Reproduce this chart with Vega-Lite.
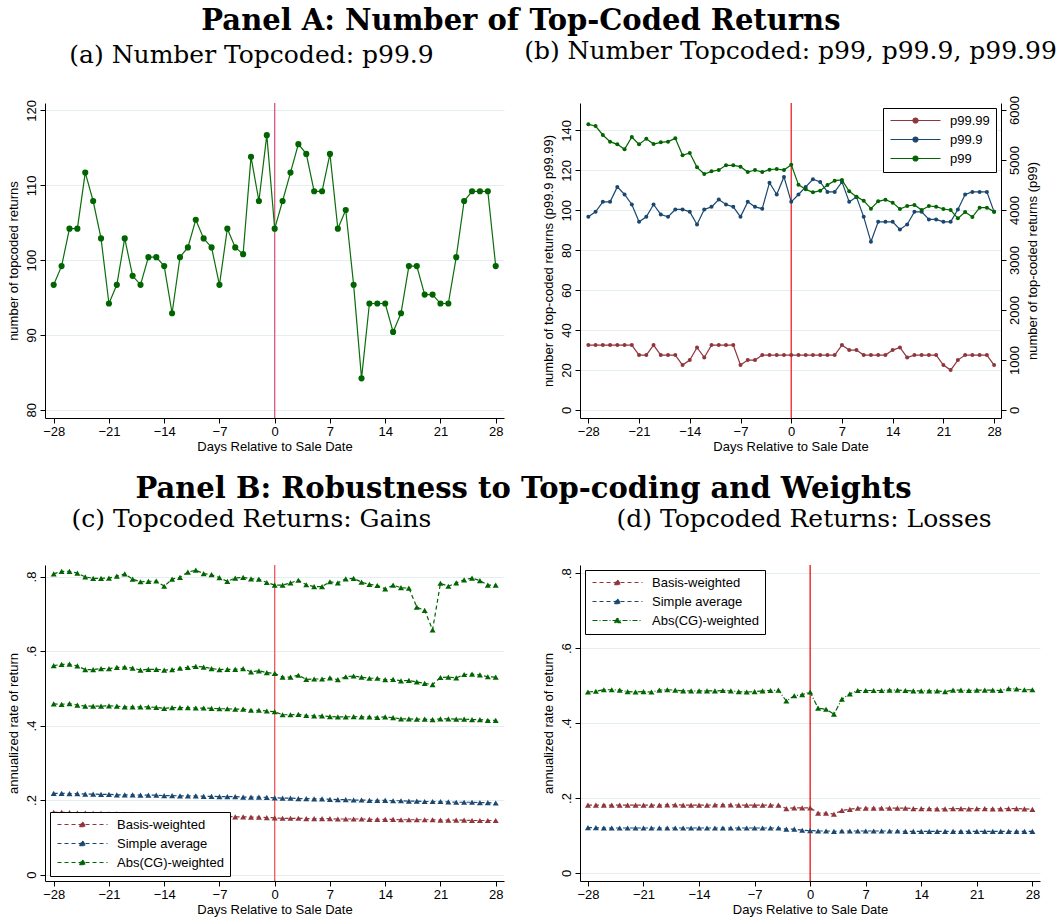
{
"$schema":"https://vega.github.io/schema/vega-lite/v6.json",
"padding":{"left":7,"top":6,"right":5,"bottom":5},
"background":"white",
"config":{
 "view":{"stroke":null},
 "axis":{"labelFont":"Liberation Sans","labelFontSize":13,"labelColor":"#000","titleFont":"Liberation Sans","titleFontSize":13,"titleFontWeight":"normal","titleColor":"#000","domainColor":"#000","domainWidth":1,"tickColor":"#000","tickSize":5,"gridColor":"#e4edef","gridWidth":1,"labelPadding":2,"labelFlush":false,"labelOverlap":false},
 "axisX":{"grid":false,"titlePadding":2},
 "axisY":{"grid":true},
 "axisLeft":{"labelAngle":270,"labelAlign":"center","labelBaseline":"bottom","titlePadding":5},
 "axisRight":{"labelAngle":270,"labelAlign":"center","labelBaseline":"top","titleAngle":270,"titleBaseline":"top","titlePadding":5,"grid":false},
 "title":{"font":"DejaVu Serif","fontSize":25,"fontWeight":"normal","color":"#000","anchor":"middle","offset":32},
 "legend":{"labelFont":"Liberation Sans","labelFontSize":13,"labelColor":"#000","strokeColor":"#000","fillColor":"#fff","padding":6,"rowPadding":5,"offset":5,"symbolSize":100,"symbolOffset":20,"labelOffset":28,"cornerRadius":0}
},
"datasets":{
"b":[
{"day":-28,"s":"p99.99","v":32.5},{"day":-27,"s":"p99.99","v":32.5},{"day":-26,"s":"p99.99","v":32.5},{"day":-25,"s":"p99.99","v":32.5},{"day":-24,"s":"p99.99","v":32.5},{"day":-23,"s":"p99.99","v":32.5},{"day":-22,"s":"p99.99","v":32.5},{"day":-21,"s":"p99.99","v":27.5},{"day":-20,"s":"p99.99","v":27.5},{"day":-19,"s":"p99.99","v":32.5},{"day":-18,"s":"p99.99","v":27.5},{"day":-17,"s":"p99.99","v":27.5},{"day":-16,"s":"p99.99","v":27.5},{"day":-15,"s":"p99.99","v":22.5},{"day":-14,"s":"p99.99","v":25},{"day":-13,"s":"p99.99","v":31.3},{"day":-12,"s":"p99.99","v":26.3},{"day":-11,"s":"p99.99","v":32.5},{"day":-10,"s":"p99.99","v":32.5},{"day":-9,"s":"p99.99","v":32.5},{"day":-8,"s":"p99.99","v":32.5},{"day":-7,"s":"p99.99","v":22.5},{"day":-6,"s":"p99.99","v":25},{"day":-5,"s":"p99.99","v":25},{"day":-4,"s":"p99.99","v":27.5},{"day":-3,"s":"p99.99","v":27.5},{"day":-2,"s":"p99.99","v":27.5},{"day":-1,"s":"p99.99","v":27.5},{"day":0,"s":"p99.99","v":27.5},{"day":1,"s":"p99.99","v":27.5},{"day":2,"s":"p99.99","v":27.5},{"day":3,"s":"p99.99","v":27.5},{"day":4,"s":"p99.99","v":27.5},{"day":5,"s":"p99.99","v":27.5},{"day":6,"s":"p99.99","v":27.5},{"day":7,"s":"p99.99","v":32.5},{"day":8,"s":"p99.99","v":30},{"day":9,"s":"p99.99","v":30},{"day":10,"s":"p99.99","v":27.5},{"day":11,"s":"p99.99","v":27.5},{"day":12,"s":"p99.99","v":27.5},{"day":13,"s":"p99.99","v":27.5},{"day":14,"s":"p99.99","v":30},{"day":15,"s":"p99.99","v":31.3},{"day":16,"s":"p99.99","v":26.3},{"day":17,"s":"p99.99","v":27.5},{"day":18,"s":"p99.99","v":27.5},{"day":19,"s":"p99.99","v":27.5},{"day":20,"s":"p99.99","v":27.5},{"day":21,"s":"p99.99","v":22.5},{"day":22,"s":"p99.99","v":20},{"day":23,"s":"p99.99","v":25},{"day":24,"s":"p99.99","v":27.5},{"day":25,"s":"p99.99","v":27.5},{"day":26,"s":"p99.99","v":27.5},{"day":27,"s":"p99.99","v":27.5},{"day":28,"s":"p99.99","v":22.5},
{"day":-28,"s":"p99.9","v":96.7},{"day":-27,"s":"p99.9","v":99.2},{"day":-26,"s":"p99.9","v":104.2},{"day":-25,"s":"p99.9","v":104.2},{"day":-24,"s":"p99.9","v":111.7},{"day":-23,"s":"p99.9","v":107.9},{"day":-22,"s":"p99.9","v":102.9},{"day":-21,"s":"p99.9","v":94.2},{"day":-20,"s":"p99.9","v":96.7},{"day":-19,"s":"p99.9","v":102.9},{"day":-18,"s":"p99.9","v":97.9},{"day":-17,"s":"p99.9","v":96.7},{"day":-16,"s":"p99.9","v":100.4},{"day":-15,"s":"p99.9","v":100.4},{"day":-14,"s":"p99.9","v":99.2},{"day":-13,"s":"p99.9","v":92.9},{"day":-12,"s":"p99.9","v":100.4},{"day":-11,"s":"p99.9","v":101.7},{"day":-10,"s":"p99.9","v":105.4},{"day":-9,"s":"p99.9","v":102.9},{"day":-8,"s":"p99.9","v":101.7},{"day":-7,"s":"p99.9","v":96.7},{"day":-6,"s":"p99.9","v":104.2},{"day":-5,"s":"p99.9","v":101.7},{"day":-4,"s":"p99.9","v":100.8},{"day":-3,"s":"p99.9","v":113.8},{"day":-2,"s":"p99.9","v":107.9},{"day":-1,"s":"p99.9","v":116.7},{"day":0,"s":"p99.9","v":104.2},{"day":1,"s":"p99.9","v":107.9},{"day":2,"s":"p99.9","v":111.7},{"day":3,"s":"p99.9","v":115.5},{"day":4,"s":"p99.9","v":114.2},{"day":5,"s":"p99.9","v":109.2},{"day":6,"s":"p99.9","v":109.2},{"day":7,"s":"p99.9","v":114.2},{"day":8,"s":"p99.9","v":104.2},{"day":9,"s":"p99.9","v":106.7},{"day":10,"s":"p99.9","v":96.7},{"day":11,"s":"p99.9","v":84.2},{"day":12,"s":"p99.9","v":94.2},{"day":13,"s":"p99.9","v":94.2},{"day":14,"s":"p99.9","v":94.2},{"day":15,"s":"p99.9","v":90.4},{"day":16,"s":"p99.9","v":92.9},{"day":17,"s":"p99.9","v":99.2},{"day":18,"s":"p99.9","v":99.2},{"day":19,"s":"p99.9","v":95.4},{"day":20,"s":"p99.9","v":95.4},{"day":21,"s":"p99.9","v":94.2},{"day":22,"s":"p99.9","v":94.2},{"day":23,"s":"p99.9","v":100.4},{"day":24,"s":"p99.9","v":107.9},{"day":25,"s":"p99.9","v":109.2},{"day":26,"s":"p99.9","v":109.2},{"day":27,"s":"p99.9","v":109.2},{"day":28,"s":"p99.9","v":99.2},
{"day":-28,"s":"p99","v":5713},{"day":-27,"s":"p99","v":5680},{"day":-26,"s":"p99","v":5500},{"day":-25,"s":"p99","v":5367},{"day":-24,"s":"p99","v":5313},{"day":-23,"s":"p99","v":5213},{"day":-22,"s":"p99","v":5460},{"day":-21,"s":"p99","v":5313},{"day":-20,"s":"p99","v":5427},{"day":-19,"s":"p99","v":5320},{"day":-18,"s":"p99","v":5353},{"day":-17,"s":"p99","v":5367},{"day":-16,"s":"p99","v":5433},{"day":-15,"s":"p99","v":5093},{"day":-14,"s":"p99","v":5140},{"day":-13,"s":"p99","v":4853},{"day":-12,"s":"p99","v":4720},{"day":-11,"s":"p99","v":4773},{"day":-10,"s":"p99","v":4800},{"day":-9,"s":"p99","v":4893},{"day":-8,"s":"p99","v":4893},{"day":-7,"s":"p99","v":4867},{"day":-6,"s":"p99","v":4760},{"day":-5,"s":"p99","v":4800},{"day":-4,"s":"p99","v":4760},{"day":-3,"s":"p99","v":4807},{"day":-2,"s":"p99","v":4820},{"day":-1,"s":"p99","v":4800},{"day":0,"s":"p99","v":4907},{"day":1,"s":"p99","v":4507},{"day":2,"s":"p99","v":4413},{"day":3,"s":"p99","v":4353},{"day":4,"s":"p99","v":4387},{"day":5,"s":"p99","v":4500},{"day":6,"s":"p99","v":4587},{"day":7,"s":"p99","v":4600},{"day":8,"s":"p99","v":4373},{"day":9,"s":"p99","v":4267},{"day":10,"s":"p99","v":4187},{"day":11,"s":"p99","v":4027},{"day":12,"s":"p99","v":4173},{"day":13,"s":"p99","v":4207},{"day":14,"s":"p99","v":4147},{"day":15,"s":"p99","v":4020},{"day":16,"s":"p99","v":4080},{"day":17,"s":"p99","v":4100},{"day":18,"s":"p99","v":4000},{"day":19,"s":"p99","v":4080},{"day":20,"s":"p99","v":4067},{"day":21,"s":"p99","v":4020},{"day":22,"s":"p99","v":4000},{"day":23,"s":"p99","v":3833},{"day":24,"s":"p99","v":3960},{"day":25,"s":"p99","v":3860},{"day":26,"s":"p99","v":4047},{"day":27,"s":"p99","v":4047},{"day":28,"s":"p99","v":3967}
],
"c":[
{"day":-28,"s":"basis","v":0.167},{"day":-28,"s":"simple","v":0.218},{"day":-28,"s":"abs","v":0.807},{"day":-28,"s":"abs2","v":0.561},{"day":-28,"s":"abs3","v":0.458},
{"day":-27,"s":"basis","v":0.167},{"day":-27,"s":"simple","v":0.218},{"day":-27,"s":"abs","v":0.814},{"day":-27,"s":"abs2","v":0.564},{"day":-27,"s":"abs3","v":0.457},
{"day":-26,"s":"basis","v":0.166},{"day":-26,"s":"simple","v":0.217},{"day":-26,"s":"abs","v":0.814},{"day":-26,"s":"abs2","v":0.565},{"day":-26,"s":"abs3","v":0.459},
{"day":-25,"s":"basis","v":0.165},{"day":-25,"s":"simple","v":0.217},{"day":-25,"s":"abs","v":0.809},{"day":-25,"s":"abs2","v":0.560},{"day":-25,"s":"abs3","v":0.455},
{"day":-24,"s":"basis","v":0.165},{"day":-24,"s":"simple","v":0.216},{"day":-24,"s":"abs","v":0.799},{"day":-24,"s":"abs2","v":0.550},{"day":-24,"s":"abs3","v":0.452},
{"day":-23,"s":"basis","v":0.164},{"day":-23,"s":"simple","v":0.216},{"day":-23,"s":"abs","v":0.795},{"day":-23,"s":"abs2","v":0.550},{"day":-23,"s":"abs3","v":0.452},
{"day":-22,"s":"basis","v":0.164},{"day":-22,"s":"simple","v":0.215},{"day":-22,"s":"abs","v":0.795},{"day":-22,"s":"abs2","v":0.553},{"day":-22,"s":"abs3","v":0.452},
{"day":-21,"s":"basis","v":0.163},{"day":-21,"s":"simple","v":0.215},{"day":-21,"s":"abs","v":0.796},{"day":-21,"s":"abs2","v":0.553},{"day":-21,"s":"abs3","v":0.453},
{"day":-20,"s":"basis","v":0.163},{"day":-20,"s":"simple","v":0.214},{"day":-20,"s":"abs","v":0.801},{"day":-20,"s":"abs2","v":0.556},{"day":-20,"s":"abs3","v":0.452},
{"day":-19,"s":"basis","v":0.162},{"day":-19,"s":"simple","v":0.214},{"day":-19,"s":"abs","v":0.807},{"day":-19,"s":"abs2","v":0.557},{"day":-19,"s":"abs3","v":0.450},
{"day":-18,"s":"basis","v":0.162},{"day":-18,"s":"simple","v":0.214},{"day":-18,"s":"abs","v":0.793},{"day":-18,"s":"abs2","v":0.554},{"day":-18,"s":"abs3","v":0.450},
{"day":-17,"s":"basis","v":0.161},{"day":-17,"s":"simple","v":0.213},{"day":-17,"s":"abs","v":0.786},{"day":-17,"s":"abs2","v":0.549},{"day":-17,"s":"abs3","v":0.450},
{"day":-16,"s":"basis","v":0.161},{"day":-16,"s":"simple","v":0.213},{"day":-16,"s":"abs","v":0.787},{"day":-16,"s":"abs2","v":0.551},{"day":-16,"s":"abs3","v":0.450},
{"day":-15,"s":"basis","v":0.160},{"day":-15,"s":"simple","v":0.213},{"day":-15,"s":"abs","v":0.788},{"day":-15,"s":"abs2","v":0.551},{"day":-15,"s":"abs3","v":0.449},
{"day":-14,"s":"basis","v":0.160},{"day":-14,"s":"simple","v":0.212},{"day":-14,"s":"abs","v":0.774},{"day":-14,"s":"abs2","v":0.549},{"day":-14,"s":"abs3","v":0.446},
{"day":-13,"s":"basis","v":0.159},{"day":-13,"s":"simple","v":0.212},{"day":-13,"s":"abs","v":0.793},{"day":-13,"s":"abs2","v":0.550},{"day":-13,"s":"abs3","v":0.448},
{"day":-12,"s":"basis","v":0.159},{"day":-12,"s":"simple","v":0.211},{"day":-12,"s":"abs","v":0.798},{"day":-12,"s":"abs2","v":0.554},{"day":-12,"s":"abs3","v":0.448},
{"day":-11,"s":"basis","v":0.158},{"day":-11,"s":"simple","v":0.211},{"day":-11,"s":"abs","v":0.812},{"day":-11,"s":"abs2","v":0.556},{"day":-11,"s":"abs3","v":0.448},
{"day":-10,"s":"basis","v":0.158},{"day":-10,"s":"simple","v":0.211},{"day":-10,"s":"abs","v":0.817},{"day":-10,"s":"abs2","v":0.559},{"day":-10,"s":"abs3","v":0.447},
{"day":-9,"s":"basis","v":0.157},{"day":-9,"s":"simple","v":0.210},{"day":-9,"s":"abs","v":0.808},{"day":-9,"s":"abs2","v":0.557},{"day":-9,"s":"abs3","v":0.447},
{"day":-8,"s":"basis","v":0.157},{"day":-8,"s":"simple","v":0.210},{"day":-8,"s":"abs","v":0.805},{"day":-8,"s":"abs2","v":0.553},{"day":-8,"s":"abs3","v":0.446},
{"day":-7,"s":"basis","v":0.156},{"day":-7,"s":"simple","v":0.209},{"day":-7,"s":"abs","v":0.797},{"day":-7,"s":"abs2","v":0.550},{"day":-7,"s":"abs3","v":0.445},
{"day":-6,"s":"basis","v":0.156},{"day":-6,"s":"simple","v":0.209},{"day":-6,"s":"abs","v":0.787},{"day":-6,"s":"abs2","v":0.551},{"day":-6,"s":"abs3","v":0.445},
{"day":-5,"s":"basis","v":0.155},{"day":-5,"s":"simple","v":0.209},{"day":-5,"s":"abs","v":0.796},{"day":-5,"s":"abs2","v":0.551},{"day":-5,"s":"abs3","v":0.444},
{"day":-4,"s":"basis","v":0.155},{"day":-4,"s":"simple","v":0.208},{"day":-4,"s":"abs","v":0.798},{"day":-4,"s":"abs2","v":0.553},{"day":-4,"s":"abs3","v":0.444},
{"day":-3,"s":"basis","v":0.154},{"day":-3,"s":"simple","v":0.208},{"day":-3,"s":"abs","v":0.794},{"day":-3,"s":"abs2","v":0.544},{"day":-3,"s":"abs3","v":0.441},
{"day":-2,"s":"basis","v":0.154},{"day":-2,"s":"simple","v":0.208},{"day":-2,"s":"abs","v":0.793},{"day":-2,"s":"abs2","v":0.547},{"day":-2,"s":"abs3","v":0.441},
{"day":-1,"s":"basis","v":0.153},{"day":-1,"s":"simple","v":0.207},{"day":-1,"s":"abs","v":0.784},{"day":-1,"s":"abs2","v":0.542},{"day":-1,"s":"abs3","v":0.439},
{"day":0,"s":"basis","v":0.152},{"day":0,"s":"simple","v":0.206},{"day":0,"s":"abs","v":0.777},{"day":0,"s":"abs2","v":0.540},{"day":0,"s":"abs3","v":0.437},
{"day":1,"s":"basis","v":0.151},{"day":1,"s":"simple","v":0.205},{"day":1,"s":"abs","v":0.777},{"day":1,"s":"abs2","v":0.530},{"day":1,"s":"abs3","v":0.429},
{"day":2,"s":"basis","v":0.151},{"day":2,"s":"simple","v":0.205},{"day":2,"s":"abs","v":0.783},{"day":2,"s":"abs2","v":0.530},{"day":2,"s":"abs3","v":0.429},
{"day":3,"s":"basis","v":0.151},{"day":3,"s":"simple","v":0.204},{"day":3,"s":"abs","v":0.790},{"day":3,"s":"abs2","v":0.535},{"day":3,"s":"abs3","v":0.430},
{"day":4,"s":"basis","v":0.150},{"day":4,"s":"simple","v":0.204},{"day":4,"s":"abs","v":0.778},{"day":4,"s":"abs2","v":0.524},{"day":4,"s":"abs3","v":0.427},
{"day":5,"s":"basis","v":0.150},{"day":5,"s":"simple","v":0.203},{"day":5,"s":"abs","v":0.773},{"day":5,"s":"abs2","v":0.525},{"day":5,"s":"abs3","v":0.426},
{"day":6,"s":"basis","v":0.150},{"day":6,"s":"simple","v":0.203},{"day":6,"s":"abs","v":0.773},{"day":6,"s":"abs2","v":0.525},{"day":6,"s":"abs3","v":0.426},
{"day":7,"s":"basis","v":0.150},{"day":7,"s":"simple","v":0.202},{"day":7,"s":"abs","v":0.786},{"day":7,"s":"abs2","v":0.528},{"day":7,"s":"abs3","v":0.424},
{"day":8,"s":"basis","v":0.149},{"day":8,"s":"simple","v":0.201},{"day":8,"s":"abs","v":0.783},{"day":8,"s":"abs2","v":0.523},{"day":8,"s":"abs3","v":0.423},
{"day":9,"s":"basis","v":0.149},{"day":9,"s":"simple","v":0.201},{"day":9,"s":"abs","v":0.794},{"day":9,"s":"abs2","v":0.531},{"day":9,"s":"abs3","v":0.423},
{"day":10,"s":"basis","v":0.149},{"day":10,"s":"simple","v":0.200},{"day":10,"s":"abs","v":0.795},{"day":10,"s":"abs2","v":0.533},{"day":10,"s":"abs3","v":0.424},
{"day":11,"s":"basis","v":0.149},{"day":11,"s":"simple","v":0.200},{"day":11,"s":"abs","v":0.785},{"day":11,"s":"abs2","v":0.530},{"day":11,"s":"abs3","v":0.423},
{"day":12,"s":"basis","v":0.148},{"day":12,"s":"simple","v":0.199},{"day":12,"s":"abs","v":0.779},{"day":12,"s":"abs2","v":0.527},{"day":12,"s":"abs3","v":0.423},
{"day":13,"s":"basis","v":0.148},{"day":13,"s":"simple","v":0.199},{"day":13,"s":"abs","v":0.776},{"day":13,"s":"abs2","v":0.527},{"day":13,"s":"abs3","v":0.422},
{"day":14,"s":"basis","v":0.148},{"day":14,"s":"simple","v":0.199},{"day":14,"s":"abs","v":0.767},{"day":14,"s":"abs2","v":0.523},{"day":14,"s":"abs3","v":0.423},
{"day":15,"s":"basis","v":0.148},{"day":15,"s":"simple","v":0.198},{"day":15,"s":"abs","v":0.777},{"day":15,"s":"abs2","v":0.524},{"day":15,"s":"abs3","v":0.421},
{"day":16,"s":"basis","v":0.147},{"day":16,"s":"simple","v":0.198},{"day":16,"s":"abs","v":0.770},{"day":16,"s":"abs2","v":0.520},{"day":16,"s":"abs3","v":0.418},
{"day":17,"s":"basis","v":0.147},{"day":17,"s":"simple","v":0.197},{"day":17,"s":"abs","v":0.769},{"day":17,"s":"abs2","v":0.521},{"day":17,"s":"abs3","v":0.418},
{"day":18,"s":"basis","v":0.147},{"day":18,"s":"simple","v":0.197},{"day":18,"s":"abs","v":0.718},{"day":18,"s":"abs2","v":0.517},{"day":18,"s":"abs3","v":0.417},
{"day":19,"s":"basis","v":0.147},{"day":19,"s":"simple","v":0.196},{"day":19,"s":"abs","v":0.709},{"day":19,"s":"abs2","v":0.513},{"day":19,"s":"abs3","v":0.417},
{"day":20,"s":"basis","v":0.147},{"day":20,"s":"simple","v":0.196},{"day":20,"s":"abs","v":0.657},{"day":20,"s":"abs2","v":0.510},{"day":20,"s":"abs3","v":0.416},
{"day":21,"s":"basis","v":0.146},{"day":21,"s":"simple","v":0.196},{"day":21,"s":"abs","v":0.782},{"day":21,"s":"abs2","v":0.529},{"day":21,"s":"abs3","v":0.418},
{"day":22,"s":"basis","v":0.146},{"day":22,"s":"simple","v":0.195},{"day":22,"s":"abs","v":0.774},{"day":22,"s":"abs2","v":0.530},{"day":22,"s":"abs3","v":0.418},
{"day":23,"s":"basis","v":0.146},{"day":23,"s":"simple","v":0.194},{"day":23,"s":"abs","v":0.783},{"day":23,"s":"abs2","v":0.528},{"day":23,"s":"abs3","v":0.417},
{"day":24,"s":"basis","v":0.146},{"day":24,"s":"simple","v":0.194},{"day":24,"s":"abs","v":0.791},{"day":24,"s":"abs2","v":0.537},{"day":24,"s":"abs3","v":0.417},
{"day":25,"s":"basis","v":0.145},{"day":25,"s":"simple","v":0.194},{"day":25,"s":"abs","v":0.796},{"day":25,"s":"abs2","v":0.538},{"day":25,"s":"abs3","v":0.416},
{"day":26,"s":"basis","v":0.145},{"day":26,"s":"simple","v":0.193},{"day":26,"s":"abs","v":0.789},{"day":26,"s":"abs2","v":0.536},{"day":26,"s":"abs3","v":0.416},
{"day":27,"s":"basis","v":0.145},{"day":27,"s":"simple","v":0.193},{"day":27,"s":"abs","v":0.777},{"day":27,"s":"abs2","v":0.531},{"day":27,"s":"abs3","v":0.414},
{"day":28,"s":"basis","v":0.145},{"day":28,"s":"simple","v":0.192},{"day":28,"s":"abs","v":0.777},{"day":28,"s":"abs2","v":0.530},{"day":28,"s":"abs3","v":0.414}
],
"d":[
{"day":-28,"s":"basis","v":0.181},{"day":-28,"s":"simple","v":0.121},{"day":-28,"s":"abs","v":0.483},
{"day":-27,"s":"basis","v":0.181},{"day":-27,"s":"simple","v":0.121},{"day":-27,"s":"abs","v":0.485},
{"day":-26,"s":"basis","v":0.181},{"day":-26,"s":"simple","v":0.120},{"day":-26,"s":"abs","v":0.489},
{"day":-25,"s":"basis","v":0.181},{"day":-25,"s":"simple","v":0.120},{"day":-25,"s":"abs","v":0.489},
{"day":-24,"s":"basis","v":0.181},{"day":-24,"s":"simple","v":0.120},{"day":-24,"s":"abs","v":0.488},
{"day":-23,"s":"basis","v":0.181},{"day":-23,"s":"simple","v":0.120},{"day":-23,"s":"abs","v":0.484},
{"day":-22,"s":"basis","v":0.181},{"day":-22,"s":"simple","v":0.120},{"day":-22,"s":"abs","v":0.483},
{"day":-21,"s":"basis","v":0.181},{"day":-21,"s":"simple","v":0.120},{"day":-21,"s":"abs","v":0.484},
{"day":-20,"s":"basis","v":0.181},{"day":-20,"s":"simple","v":0.120},{"day":-20,"s":"abs","v":0.483},
{"day":-19,"s":"basis","v":0.181},{"day":-19,"s":"simple","v":0.120},{"day":-19,"s":"abs","v":0.488},
{"day":-18,"s":"basis","v":0.182},{"day":-18,"s":"simple","v":0.120},{"day":-18,"s":"abs","v":0.489},
{"day":-17,"s":"basis","v":0.182},{"day":-17,"s":"simple","v":0.120},{"day":-17,"s":"abs","v":0.488},
{"day":-16,"s":"basis","v":0.181},{"day":-16,"s":"simple","v":0.120},{"day":-16,"s":"abs","v":0.486},
{"day":-15,"s":"basis","v":0.181},{"day":-15,"s":"simple","v":0.120},{"day":-15,"s":"abs","v":0.486},
{"day":-14,"s":"basis","v":0.181},{"day":-14,"s":"simple","v":0.120},{"day":-14,"s":"abs","v":0.486},
{"day":-13,"s":"basis","v":0.181},{"day":-13,"s":"simple","v":0.120},{"day":-13,"s":"abs","v":0.486},
{"day":-12,"s":"basis","v":0.182},{"day":-12,"s":"simple","v":0.120},{"day":-12,"s":"abs","v":0.486},
{"day":-11,"s":"basis","v":0.182},{"day":-11,"s":"simple","v":0.120},{"day":-11,"s":"abs","v":0.487},
{"day":-10,"s":"basis","v":0.182},{"day":-10,"s":"simple","v":0.120},{"day":-10,"s":"abs","v":0.486},
{"day":-9,"s":"basis","v":0.181},{"day":-9,"s":"simple","v":0.120},{"day":-9,"s":"abs","v":0.484},
{"day":-8,"s":"basis","v":0.181},{"day":-8,"s":"simple","v":0.120},{"day":-8,"s":"abs","v":0.483},
{"day":-7,"s":"basis","v":0.181},{"day":-7,"s":"simple","v":0.120},{"day":-7,"s":"abs","v":0.484},
{"day":-6,"s":"basis","v":0.181},{"day":-6,"s":"simple","v":0.120},{"day":-6,"s":"abs","v":0.486},
{"day":-5,"s":"basis","v":0.181},{"day":-5,"s":"simple","v":0.120},{"day":-5,"s":"abs","v":0.487},
{"day":-4,"s":"basis","v":0.181},{"day":-4,"s":"simple","v":0.120},{"day":-4,"s":"abs","v":0.488},
{"day":-3,"s":"basis","v":0.172},{"day":-3,"s":"simple","v":0.117},{"day":-3,"s":"abs","v":0.459},
{"day":-2,"s":"basis","v":0.174},{"day":-2,"s":"simple","v":0.117},{"day":-2,"s":"abs","v":0.473},
{"day":-1,"s":"basis","v":0.174},{"day":-1,"s":"simple","v":0.114},{"day":-1,"s":"abs","v":0.476},
{"day":0,"s":"basis","v":0.174},{"day":0,"s":"simple","v":0.113},{"day":0,"s":"abs","v":0.483},
{"day":1,"s":"basis","v":0.160},{"day":1,"s":"simple","v":0.112},{"day":1,"s":"abs","v":0.440},
{"day":2,"s":"basis","v":0.160},{"day":2,"s":"simple","v":0.112},{"day":2,"s":"abs","v":0.437},
{"day":3,"s":"basis","v":0.157},{"day":3,"s":"simple","v":0.111},{"day":3,"s":"abs","v":0.424},
{"day":4,"s":"basis","v":0.167},{"day":4,"s":"simple","v":0.112},{"day":4,"s":"abs","v":0.464},
{"day":5,"s":"basis","v":0.170},{"day":5,"s":"simple","v":0.112},{"day":5,"s":"abs","v":0.478},
{"day":6,"s":"basis","v":0.173},{"day":6,"s":"simple","v":0.112},{"day":6,"s":"abs","v":0.487},
{"day":7,"s":"basis","v":0.173},{"day":7,"s":"simple","v":0.112},{"day":7,"s":"abs","v":0.487},
{"day":8,"s":"basis","v":0.173},{"day":8,"s":"simple","v":0.112},{"day":8,"s":"abs","v":0.487},
{"day":9,"s":"basis","v":0.173},{"day":9,"s":"simple","v":0.112},{"day":9,"s":"abs","v":0.487},
{"day":10,"s":"basis","v":0.173},{"day":10,"s":"simple","v":0.112},{"day":10,"s":"abs","v":0.488},
{"day":11,"s":"basis","v":0.173},{"day":11,"s":"simple","v":0.112},{"day":11,"s":"abs","v":0.488},
{"day":12,"s":"basis","v":0.173},{"day":12,"s":"simple","v":0.111},{"day":12,"s":"abs","v":0.487},
{"day":13,"s":"basis","v":0.172},{"day":13,"s":"simple","v":0.111},{"day":13,"s":"abs","v":0.486},
{"day":14,"s":"basis","v":0.172},{"day":14,"s":"simple","v":0.111},{"day":14,"s":"abs","v":0.486},
{"day":15,"s":"basis","v":0.172},{"day":15,"s":"simple","v":0.111},{"day":15,"s":"abs","v":0.486},
{"day":16,"s":"basis","v":0.171},{"day":16,"s":"simple","v":0.111},{"day":16,"s":"abs","v":0.486},
{"day":17,"s":"basis","v":0.171},{"day":17,"s":"simple","v":0.111},{"day":17,"s":"abs","v":0.484},
{"day":18,"s":"basis","v":0.172},{"day":18,"s":"simple","v":0.111},{"day":18,"s":"abs","v":0.488},
{"day":19,"s":"basis","v":0.172},{"day":19,"s":"simple","v":0.111},{"day":19,"s":"abs","v":0.488},
{"day":20,"s":"basis","v":0.171},{"day":20,"s":"simple","v":0.111},{"day":20,"s":"abs","v":0.487},
{"day":21,"s":"basis","v":0.172},{"day":21,"s":"simple","v":0.111},{"day":21,"s":"abs","v":0.488},
{"day":22,"s":"basis","v":0.172},{"day":22,"s":"simple","v":0.111},{"day":22,"s":"abs","v":0.488},
{"day":23,"s":"basis","v":0.171},{"day":23,"s":"simple","v":0.111},{"day":23,"s":"abs","v":0.488},
{"day":24,"s":"basis","v":0.171},{"day":24,"s":"simple","v":0.111},{"day":24,"s":"abs","v":0.487},
{"day":25,"s":"basis","v":0.172},{"day":25,"s":"simple","v":0.111},{"day":25,"s":"abs","v":0.492},
{"day":26,"s":"basis","v":0.172},{"day":26,"s":"simple","v":0.111},{"day":26,"s":"abs","v":0.491},
{"day":27,"s":"basis","v":0.171},{"day":27,"s":"simple","v":0.111},{"day":27,"s":"abs","v":0.489},
{"day":28,"s":"basis","v":0.170},{"day":28,"s":"simple","v":0.111},{"day":28,"s":"abs","v":0.489}
],
"zero":[{"day":0}]
},
"vconcat":[
 {
  "title":{"text":"Panel A: Number of Top-Coded Returns","font":"DejaVu Serif","fontSize":29,"fontWeight":"bold","offset":3,"dx":-11},
  "spacing":76,
  "bounds":"flush",
  "hconcat":[
   {
    "width":459,"height":315,
    "title":{"text":"(a) Number Topcoded: p99.9","dx":-23},
    "encoding":{"x":{"field":"day","type":"quantitative","scale":{"domain":[-29.1,29.05],"nice":false,"zero":false},"axis":{"values":[-28,-21,-14,-7,0,7,14,21,28],"title":"Days Relative to Sale Date"}}},
    "layer":[
     {"data":{"name":"zero"},"mark":{"type":"rule","color":"#d5587a","strokeWidth":1.3},"encoding":{}},
     {"data":{"name":"b"},"transform":[{"filter":"datum.s == 'p99.9'"}],
      "encoding":{"y":{"field":"v","type":"quantitative","scale":{"domain":[78.9,121],"nice":false,"zero":false},"axis":{"values":[80,90,100,110,120],"title":"number of topcoded returns"}}},
      "layer":[
       {"mark":{"type":"line","color":"#0a6e0a","strokeWidth":1.2},"encoding":{}},
       {"mark":{"type":"point","filled":true,"size":38,"opacity":1,"color":"#006400"},"encoding":{}}
      ]}
    ]
   },
   {
    "width":421,"height":315,
    "title":{"text":"(b) Number Topcoded: p99, p99.9, p99.99"},
    "encoding":{"x":{"field":"day","type":"quantitative","scale":{"domain":[-29.15,28.95],"nice":false,"zero":false},"axis":{"values":[-28,-21,-14,-7,0,7,14,21,28],"title":"Days Relative to Sale Date"}}},
    "layer":[
     {"data":{"name":"zero"},"mark":{"type":"rule","color":"#ee1111","strokeWidth":1.2},"encoding":{}},
     {"data":{"name":"b"},"transform":[{"filter":"datum.s != 'p99'"}],
      "encoding":{
       "y":{"field":"v","type":"quantitative","scale":{"domain":[-4,153.7],"nice":false,"zero":false},"axis":{"orient":"left","values":[0,20,40,60,80,100,120,140],"title":"number of top-coded returns (p99.9  p99.99)"}},
       "color":{"field":"s","type":"nominal","scale":{"domain":["p99.99","p99.9","p99"],"range":["#90353b","#1a476f","#006400"]},
        "legend":{"title":null,"orient":"top-right","offset":5,"symbolType":"M-5,0H5M-0.5,0A0.5,0.5,0,1,0,0.5,0A0.5,0.5,0,1,0,-0.5,0Z",
         "encode":{"symbols":{"update":{"fill":[{"test":"datum.value==='p99.99'","value":"#90353b"},{"test":"datum.value==='p99.9'","value":"#1a476f"},{"value":"#006400"}],"stroke":[{"test":"datum.value==='p99.99'","value":"#90353b"},{"test":"datum.value==='p99.9'","value":"#1a476f"},{"value":"#006400"}],"strokeWidth":{"value":1.2},"opacity":{"value":1}}}}}}
      },
      "layer":[
       {"mark":{"type":"line","strokeWidth":1.2},"encoding":{}},
       {"mark":{"type":"point","filled":true,"size":16,"opacity":1},"encoding":{}}
      ]},
     {"data":{"name":"b"},"transform":[{"filter":"datum.s == 'p99'"}],
      "encoding":{
       "y":{"field":"v","type":"quantitative","scale":{"domain":[-160,6140],"nice":false,"zero":false},"axis":{"orient":"right","grid":false,"format":"d","values":[0,1000,2000,3000,4000,5000,6000],"title":"number of top-coded returns (p99)"}},
       "color":{"field":"s","type":"nominal","scale":{"domain":["p99.99","p99.9","p99"],"range":["#90353b","#1a476f","#006400"]},
        "legend":{"title":null,"orient":"top-right","offset":5,"symbolType":"M-5,0H5M-0.5,0A0.5,0.5,0,1,0,0.5,0A0.5,0.5,0,1,0,-0.5,0Z",
         "encode":{"symbols":{"update":{"fill":[{"test":"datum.value==='p99.99'","value":"#90353b"},{"test":"datum.value==='p99.9'","value":"#1a476f"},{"value":"#006400"}],"stroke":[{"test":"datum.value==='p99.99'","value":"#90353b"},{"test":"datum.value==='p99.9'","value":"#1a476f"},{"value":"#006400"}],"strokeWidth":{"value":1.2},"opacity":{"value":1}}}}}}
      },
      "layer":[
       {"mark":{"type":"line","strokeWidth":1.2},"encoding":{}},
       {"mark":{"type":"point","filled":true,"size":16,"opacity":1},"encoding":{}}
      ]}
    ],
    "resolve":{"scale":{"y":"independent"}}
   }
  ],
  "resolve":{"scale":{"color":"independent"},"legend":{"color":"independent"}}
 },
 {
  "title":{"text":"Panel B: Robustness to Top-coding and Weights","font":"DejaVu Serif","fontSize":29,"fontWeight":"bold","offset":3},
  "spacing":76,
  "bounds":"flush",
  "hconcat":[
   {
    "width":459,"height":316,
    "title":{"text":"(c) Topcoded Returns: Gains","dx":-23},
    "encoding":{"x":{"field":"day","type":"quantitative","scale":{"domain":[-29.1,29.05],"nice":false,"zero":false},"axis":{"values":[-28,-21,-14,-7,0,7,14,21,28],"title":"Days Relative to Sale Date"}}},
    "layer":[
     {"data":{"name":"zero"},"mark":{"type":"rule","color":"#f25555","strokeWidth":1.3},"encoding":{}},
     {"data":{"name":"c"},
      "encoding":{
       "y":{"field":"v","type":"quantitative","scale":{"domain":[-0.0174,0.831],"nice":false,"zero":false},"axis":{"values":[0,0.2,0.4,0.6,0.8],"labelExpr":"datum.value == 0 ? '0' : replace(format(datum.value, '.1f'), '0.', '.')","title":"annualized rate of return"}},
       "color":{"field":"s","type":"nominal","scale":{"domain":["basis","simple","abs","abs2","abs3"],"range":["#90353b","#1a476f","#006400","#006400","#006400"]},
        "legend":{"title":null,"orient":"bottom-left","offset":5,"values":["basis","simple","abs"],"labelExpr":"datum.label == 'basis' ? 'Basis-weighted' : datum.label == 'simple' ? 'Simple average' : 'Abs(CG)-weighted'","symbolType":"M-5,0H5M-0.6,0.45L0,-0.6L0.6,0.45Z",
         "encode":{"symbols":{"update":{"fill":[{"test":"datum.value==='basis'","value":"#90353b"},{"test":"datum.value==='simple'","value":"#1a476f"},{"value":"#006400"}],"stroke":[{"test":"datum.value==='basis'","value":"#90353b"},{"test":"datum.value==='simple'","value":"#1a476f"},{"value":"#006400"}],"strokeWidth":{"value":1.2},"strokeDash":{"value":[4,3]},"opacity":{"value":1}}}}}}
      },
      "layer":[
       {"mark":{"type":"line","strokeWidth":1.2,"strokeDash":[4,3]},"encoding":{}},
       {"mark":{"type":"point","shape":"triangle-up","filled":true,"size":36,"opacity":1},"encoding":{}}
      ]}
    ]
   },
   {
    "width":460,"height":316,
    "title":{"text":"(d) Topcoded Returns: Losses","dx":-6},
    "encoding":{"x":{"field":"day","type":"quantitative","scale":{"domain":[-29.0,28.96],"nice":false,"zero":false},"axis":{"values":[-28,-21,-14,-7,0,7,14,21,28],"title":"Days Relative to Sale Date"}}},
    "layer":[
     {"data":{"name":"zero"},"mark":{"type":"rule","color":"#ee1111","strokeWidth":1.3},"encoding":{}},
     {"data":{"name":"d"},
      "encoding":{
       "y":{"field":"v","type":"quantitative","scale":{"domain":[-0.0214,0.822],"nice":false,"zero":false},"axis":{"values":[0,0.2,0.4,0.6,0.8],"labelExpr":"datum.value == 0 ? '0' : replace(format(datum.value, '.1f'), '0.', '.')","title":"annualized rate of return"}},
       "color":{"field":"s","type":"nominal","scale":{"domain":["basis","simple","abs"],"range":["#90353b","#1a476f","#006400"]},
        "legend":{"title":null,"orient":"top-left","offset":5,"labelExpr":"datum.label == 'basis' ? 'Basis-weighted' : datum.label == 'simple' ? 'Simple average' : 'Abs(CG)-weighted'","symbolType":"M-5,0H5M-0.6,0.45L0,-0.6L0.6,0.45Z",
         "encode":{"symbols":{"update":{"fill":[{"test":"datum.value==='basis'","value":"#90353b"},{"test":"datum.value==='simple'","value":"#1a476f"},{"value":"#006400"}],"stroke":[{"test":"datum.value==='basis'","value":"#90353b"},{"test":"datum.value==='simple'","value":"#1a476f"},{"value":"#006400"}],"strokeWidth":{"value":1.2},"strokeDash":[{"test":"datum.value==='abs'","value":[5,2,1,2]},{"value":[4,3]}],"opacity":{"value":1}}}}}},
       "strokeDash":{"field":"s","type":"nominal","scale":{"domain":["basis","simple","abs"],"range":[[4,3],[4,3],[5,2,1,2]]},"legend":null}
      },
      "layer":[
       {"mark":{"type":"line","strokeWidth":1.2},"encoding":{}},
       {"mark":{"type":"point","shape":"triangle-up","filled":true,"size":36,"opacity":1},"encoding":{"strokeDash":{"value":[]}}}
      ]}
    ]
   }
  ],
  "resolve":{"scale":{"color":"independent","strokeDash":"independent"},"legend":{"color":"independent","strokeDash":"independent"}}
 }
],
"spacing":22,
"resolve":{"scale":{"color":"independent","strokeDash":"independent"},"legend":{"color":"independent","strokeDash":"independent"}}
}
